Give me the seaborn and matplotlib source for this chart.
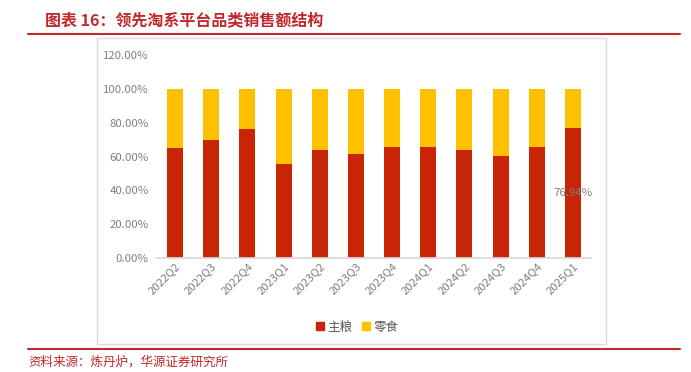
import matplotlib
matplotlib.use('Agg')
import matplotlib.pyplot as plt
import seaborn as sns
import pandas as pd
from matplotlib.patches import Rectangle
from matplotlib.lines import Line2D
from matplotlib.ticker import FuncFormatter

quarters = ['2022Q2', '2022Q3', '2022Q4', '2023Q1', '2023Q2', '2023Q3',
            '2023Q4', '2024Q1', '2024Q2', '2024Q3', '2024Q4', '2025Q1']
staple = [65.1, 69.9, 76.2, 55.5, 63.9, 61.7, 65.4, 65.4, 63.9, 60.1, 65.8, 76.94]
snack = [100 - v for v in staple]

red = '#C82506'
yellow = '#FFC000'
gray = '#7F7F7F'

sns.set_theme(style='white')
plt.rcParams['font.family'] = ['Noto Sans CJK SC', 'DejaVu Sans']

df = pd.DataFrame({'quarter': quarters, 'staple': staple, 'snack': snack})
df['total'] = df['staple'] + df['snack']

fig = plt.figure(figsize=(6.91, 3.72), dpi=100)
ax = fig.add_axes([157 / 691, 1 - 258 / 372, 434 / 691, 203 / 372])

sns.barplot(data=df, x='quarter', y='total', color=yellow, width=0.44,
            saturation=1, linewidth=0, ax=ax)
sns.barplot(data=df, x='quarter', y='staple', color=red, width=0.44,
            saturation=1, linewidth=0, ax=ax)

ax.set_ylim(0, 120)
ax.set_xlim(-0.5, len(quarters) - 0.5)
ax.set_yticks(range(0, 121, 20))
ax.yaxis.set_major_formatter(FuncFormatter(lambda v, p: f'{v:.2f}%'))
ax.set_xlabel('')
ax.set_ylabel('')
ax.tick_params(axis='y', colors=gray, labelsize=8.2, length=0, pad=6)
ax.tick_params(axis='x', colors=gray, labelsize=8.2, length=0, pad=2)
plt.setp(ax.get_xticklabels(), rotation=45, ha='right', rotation_mode='anchor')
for s in ['top', 'right', 'left']:
    ax.spines[s].set_visible(False)
ax.spines['bottom'].set_color('#D9D9D9')

# data label on the last bar
last = len(quarters) - 1
ax.text(last, staple[last] / 2, f'{staple[last]:.2f}%', ha='center',
        va='center', color=gray, fontsize=8.2)

handles = [Line2D([], [], marker='s', linestyle='', color=red, markersize=6),
           Line2D([], [], marker='s', linestyle='', color=yellow, markersize=6)]
fig.legend(handles, ['主粮', '零食'], loc='center', ncol=2,
           bbox_to_anchor=(357 / 691, 1 - 327 / 372), frameon=False,
           fontsize=9, handlelength=0.7, handletextpad=0.2, columnspacing=0.8,
           labelcolor='#595959')

# chart frame
fig.patches.append(Rectangle((97 / 691, 1 - 344 / 372), 509 / 691, 306 / 372,
                             transform=fig.transFigure, fill=False,
                             edgecolor='#D9D9D9', linewidth=1))

title_red = '#C0282D'
fig.text(45 / 691, 1 - 20 / 372, '图表 16：领先淘系平台品类销售额结构',
         color=title_red, fontsize=11.5, fontweight='bold', va='center')
fig.add_artist(Line2D([28 / 691, 680 / 691], [1 - 34 / 372, 1 - 34 / 372],
                      transform=fig.transFigure, color=title_red, linewidth=1.5))
fig.add_artist(Line2D([28 / 691, 680 / 691], [1 - 349 / 372, 1 - 349 / 372],
                      transform=fig.transFigure, color=title_red, linewidth=1.5))
fig.text(28 / 691, 1 - 362 / 372, '资料来源：炼丹炉，华源证券研究所',
         color=title_red, fontsize=9, va='center')

fig.savefig('out.png', dpi=100)
